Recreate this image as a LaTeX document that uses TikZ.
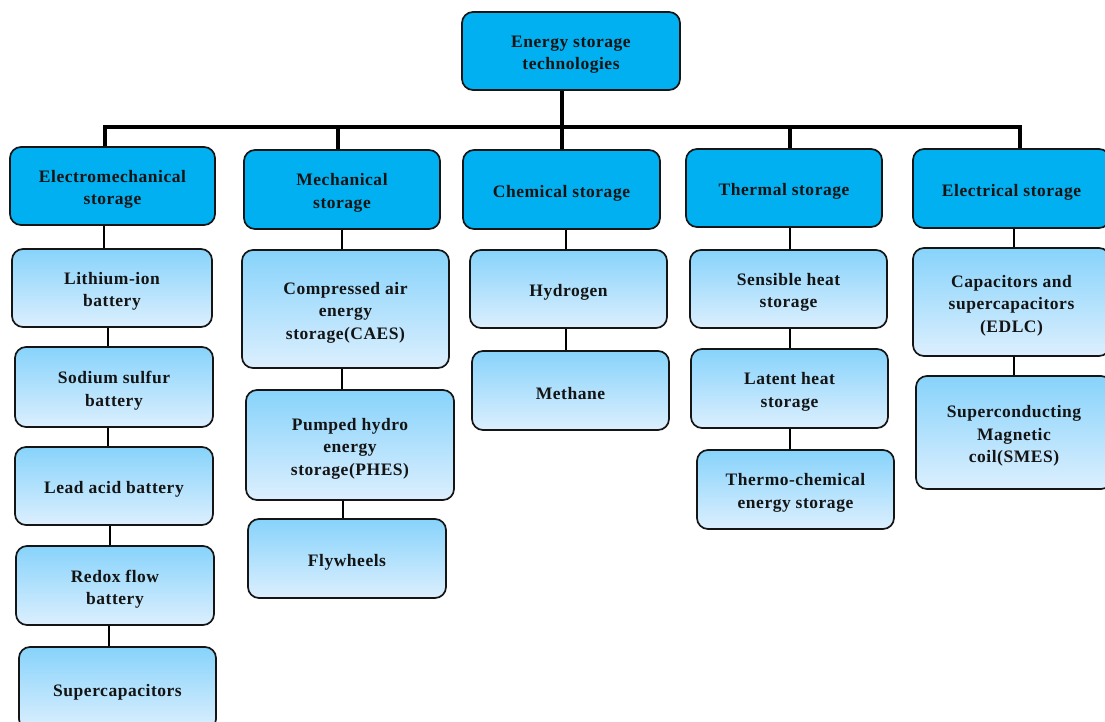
\documentclass[tikz,border=0pt]{standalone}
\usepackage{fontspec}
\setmainfont{Liberation Serif}[LetterSpace=3]
\definecolor{catblue}{HTML}{00B0F0}
\definecolor{leaftop}{HTML}{87D3FB}
\definecolor{leafbot}{HTML}{DCEFFE}
\definecolor{edge}{HTML}{151515}
\tikzset{
  base/.style={draw=edge, line width=1.7pt, rounded corners=11pt, inner sep=0pt},
  lbl/.style={align=center, font=\fontsize{17.5}{22.5}\selectfont\bfseries,
    text=black!92, inner sep=0pt, yshift=-3.5pt},
  cat/.style={base, fill=catblue},
  leaf/.style={base, top color=leaftop, bottom color=leafbot},
  trunk/.style={line width=4pt, draw=black},
  conn/.style={line width=1.5pt, draw=black},
}
\newcommand\lnk[3]{\coordinate (tmpx) at (#3,0); \draw[conn] (#1.south -| tmpx) -- (#2.north -| tmpx);}
\begin{document}
\begin{tikzpicture}[x=1pt,y=-1pt]
\clip (0,0) rectangle (1105,722);
\useasboundingbox (0,0) rectangle (1105,722);
\fill[white] (0,0) rectangle (1105,722);
% root
\node[cat, minimum width=218pt, minimum height=78pt, label={[lbl]center:{Energy storage\\technologies}}] (root) at (571,51) {};
% categories
\node[cat, minimum width=205pt, minimum height=78pt, label={[lbl]center:{Electromechanical\\storage}}] (em) at (112.5,186) {};
\node[cat, minimum width=196pt, minimum height=79pt, label={[lbl]center:{Mechanical\\storage}}] (me) at (342,189.5) {};
\node[cat, minimum width=197pt, minimum height=79pt, label={[lbl]center:{Chemical storage}}] (ch) at (561.5,189.5) {};
\node[cat, minimum width=196pt, minimum height=78pt, label={[lbl]center:{Thermal storage}}] (th) at (784,188) {};
\node[cat, minimum width=197pt, minimum height=79pt, label={[lbl]center:{Electrical storage}}] (el) at (1011.5,188.5) {};
% trunk connectors
\coordinate (b1) at (105,127);
\coordinate (b2) at (338,127);
\coordinate (b3) at (562,127);
\coordinate (b4) at (790,127);
\coordinate (b5) at (1020,127);
\draw[trunk] (root.south -| b3) -- (b3 |- ch.north);
\draw[trunk, line cap=rect] (b1) -- (b5);
\draw[trunk] (b1) -- (b1 |- em.north);
\draw[trunk] (b2) -- (b2 |- me.north);
\draw[trunk] (b4) -- (b4 |- th.north);
\draw[trunk] (b5) -- (b5 |- el.north);
% column 1
\node[leaf, minimum width=200pt, minimum height=78pt, label={[lbl]center:{Lithium-ion\\battery}}] (li) at (112,288) {};
\node[leaf, minimum width=198pt, minimum height=80pt, label={[lbl]center:{Sodium sulfur\\battery}}] (na) at (114,387) {};
\node[leaf, minimum width=198pt, minimum height=78pt, label={[lbl]center:{Lead acid battery}}] (pb) at (114,486) {};
\node[leaf, minimum width=198pt, minimum height=79pt, label={[lbl]center:{Redox flow\\battery}}] (rf) at (115,585.5) {};
\node[leaf, minimum width=197pt, minimum height=83pt, label={[lbl]center:{Supercapacitors}}] (sc) at (117.5,688.5) {};
% column 2
\node[leaf, minimum width=207pt, minimum height=118pt, label={[lbl]center:{Compressed air\\energy\\storage(CAES)}}] (ca) at (345.5,309) {};
\node[leaf, minimum width=208pt, minimum height=110pt, label={[lbl]center:{Pumped hydro\\energy\\storage(PHES)}}] (ph) at (350,445) {};
\node[leaf, minimum width=198pt, minimum height=79pt, label={[lbl]center:{Flywheels}}] (fw) at (347,558.5) {};
% column 3
\node[leaf, minimum width=197pt, minimum height=78pt, label={[lbl]center:{Hydrogen}}] (hy) at (568.5,289) {};
\node[leaf, minimum width=197pt, minimum height=79pt, label={[lbl]center:{Methane}}] (mt) at (570.5,390.5) {};
% column 4
\node[leaf, minimum width=197pt, minimum height=78pt, label={[lbl]center:{Sensible heat\\storage}}] (sh) at (788.5,289) {};
\node[leaf, minimum width=197pt, minimum height=79pt, label={[lbl]center:{Latent heat\\storage}}] (lh) at (789.5,388.5) {};
\node[leaf, minimum width=197pt, minimum height=79pt, label={[lbl]center:{Thermo-chemical\\energy storage}}] (tc) at (795.5,489.5) {};
% column 5
\node[leaf, minimum width=197pt, minimum height=108pt, label={[lbl]center:{Capacitors and\\supercapacitors\\(EDLC)}}] (ed) at (1011.5,302) {};
\node[leaf, minimum width=196pt, minimum height=113pt, label={[lbl]center:{Superconducting\\Magnetic\\coil(SMES)}}] (sm) at (1014,432.5) {};
% thin connectors
\lnk{em}{li}{104}
\lnk{li}{na}{108}
\lnk{na}{pb}{108}
\lnk{pb}{rf}{110}
\lnk{rf}{sc}{109}
\lnk{me}{ca}{342}
\lnk{ca}{ph}{342}
\lnk{ph}{fw}{343}
\lnk{ch}{hy}{566}
\lnk{hy}{mt}{566}
\lnk{th}{sh}{790}
\lnk{sh}{lh}{790}
\lnk{lh}{tc}{790}
\lnk{el}{ed}{1014}
\lnk{ed}{sm}{1014}
\end{tikzpicture}
\end{document}
